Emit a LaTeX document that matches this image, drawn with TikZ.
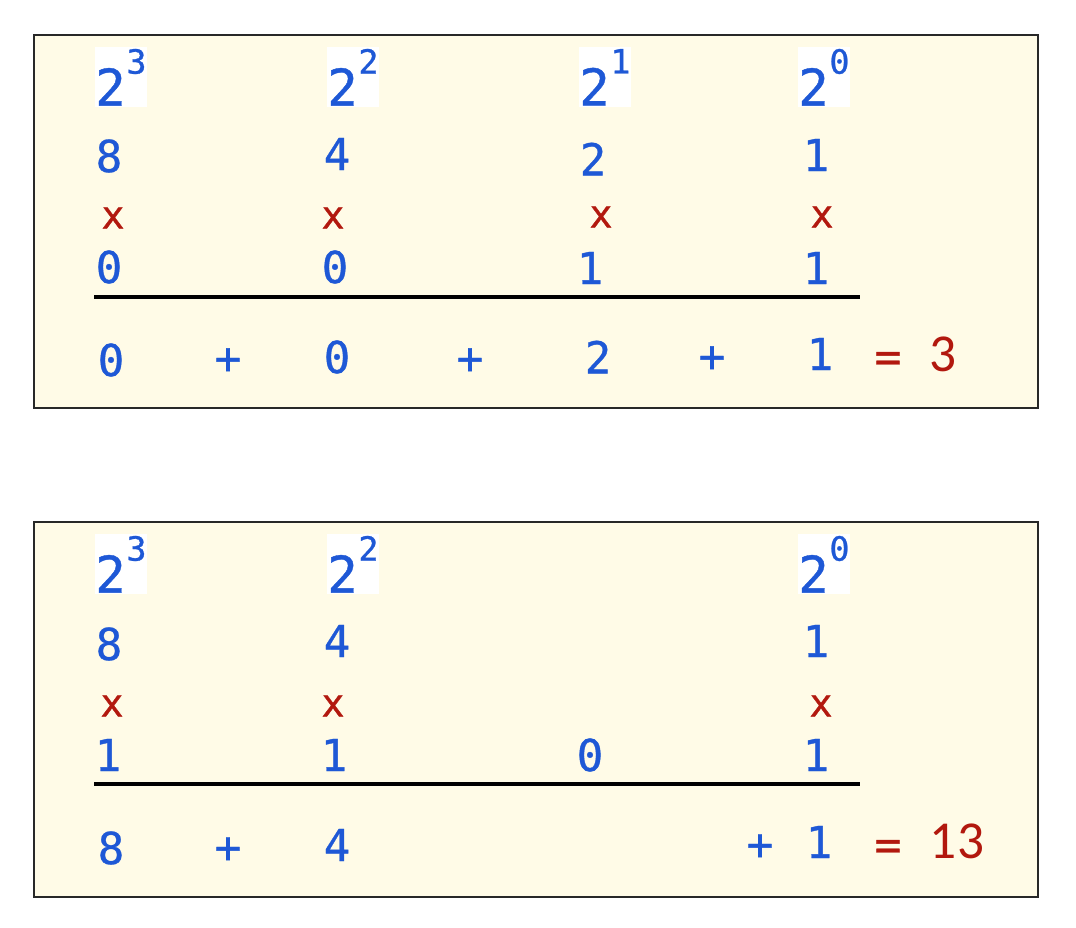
\documentclass[tikz,border=0pt]{standalone}
\usepackage{fontspec}
\newfontfamily\monof[FakeBold=0.8]{DejaVu Sans Mono}
\newfontfamily\calf{Carlito}
\definecolor{cream}{RGB}{255,251,231}
\definecolor{dblue}{RGB}{30,88,214}
\definecolor{dred}{RGB}{178,24,14}
\definecolor{frame}{RGB}{40,40,40}
\newcommand\powtwo[1]{{\fontsize{38}{38}\selectfont 2}\kern0.5pt\raisebox{24pt}{\fontsize{25}{25}\selectfont #1}}
\tikzset{
  panel/.style={draw=frame, fill=cream, line width=1.2pt},
  num/.style={inner sep=0pt, text=dblue, font=\monof\fontsize{33}{33}\selectfont},
  mul/.style={inner sep=0pt, text=dred, font=\monof\fontsize{29}{29}\selectfont},
  res/.style={inner sep=0pt, text=dred, font=\calf\fontsize{40}{40}\selectfont},
  eqs/.style={inner sep=0pt, text=dred, font=\monof\fontsize{33}{33}\selectfont},
  pw/.style={anchor=north west, fill=white, inner sep=0pt, text=dblue, font=\monof,
             minimum width=38pt, minimum height=45pt},
  rule/.style={draw=black, line width=2.4pt}
}
\begin{document}
\begin{tikzpicture}[x=0.75pt,y=-0.75pt]
\useasboundingbox (0,0) rectangle (1076,928);
\fill[white] (0,0) rectangle (1076,928);
% panels
\draw[panel] (34,35) rectangle (1038,408);
\draw[panel] (34,522) rectangle (1038,897);

% ---------- top panel ----------
\node[pw] (ta1) at (95,47) {\powtwo{3}};
\node[pw] (ta2) at (327,47) {\powtwo{2}};
\node[pw] (ta3) at (579,47) {\powtwo{1}};
\node[pw] (ta4) at (798,47) {\powtwo{0}};

\node[num] (tb1) at (109,156) {8};
\node[num] (tb2) at (337,154) {4};
\node[num] (tb3) at (593,159) {2};
\node[num] (tb4) at (816,155) {1};

\node[mul] (tc1) at (113,218) {x};
\node[mul] (tc2) at (333,218) {x};
\node[mul] (tc3) at (601,217) {x};
\node[mul] (tc4) at (822,217) {x};

\node[num] (td1) at (109,267) {0};
\node[num] (td2) at (335,267) {0};
\node[num] (td3) at (590,268) {1};
\node[num] (td4) at (816,268) {1};

\coordinate (tl1) at (94,297);
\coordinate (tl2) at (860,297);
\draw[rule] (tl1) -- (tl2);

\node[num] (te1) at (111,360) {0};
\node[num] (tp1) at (228,361) {+};
\node[num] (te2) at (337,357) {0};
\node[num] (tp2) at (470,361) {+};
\node[num] (te3) at (598,357) {2};
\node[num] (tp3) at (712,359) {+};
\node[num] (te4) at (820,354) {1};
\node[eqs] (teq) at (888,362) {=};
\node[res] (tres) at (943,354) {3};

% ---------- bottom panel ----------
\node[pw] (ba1) at (95,534) {\powtwo{3}};
\node[pw] (ba2) at (327,534) {\powtwo{2}};
\node[pw] (ba4) at (798,534) {\powtwo{0}};

\node[num] (bb1) at (109,644) {8};
\node[num] (bb2) at (337,641) {4};
\node[num] (bb4) at (816,641) {1};

\node[mul] (bc1) at (112,706) {x};
\node[mul] (bc2) at (333,706) {x};
\node[mul] (bc4) at (821,706) {x};

\node[num] (bd1) at (108,755) {1};
\node[num] (bd2) at (334,755) {1};
\node[num] (bd3) at (590,755) {0};
\node[num] (bd4) at (816,755) {1};

\coordinate (bl1) at (94,784);
\coordinate (bl2) at (860,784);
\draw[rule] (bl1) -- (bl2);

\node[num] (be1) at (111,848) {8};
\node[num] (bp1) at (228,850) {+};
\node[num] (be2) at (337,845) {4};
\node[num] (bp3) at (760,847) {+};
\node[num] (be4) at (819,842) {1};
\node[eqs] (beq) at (888,850) {=};
\node[res] (bres) at (957,841) {13};
\end{tikzpicture}
\end{document}
